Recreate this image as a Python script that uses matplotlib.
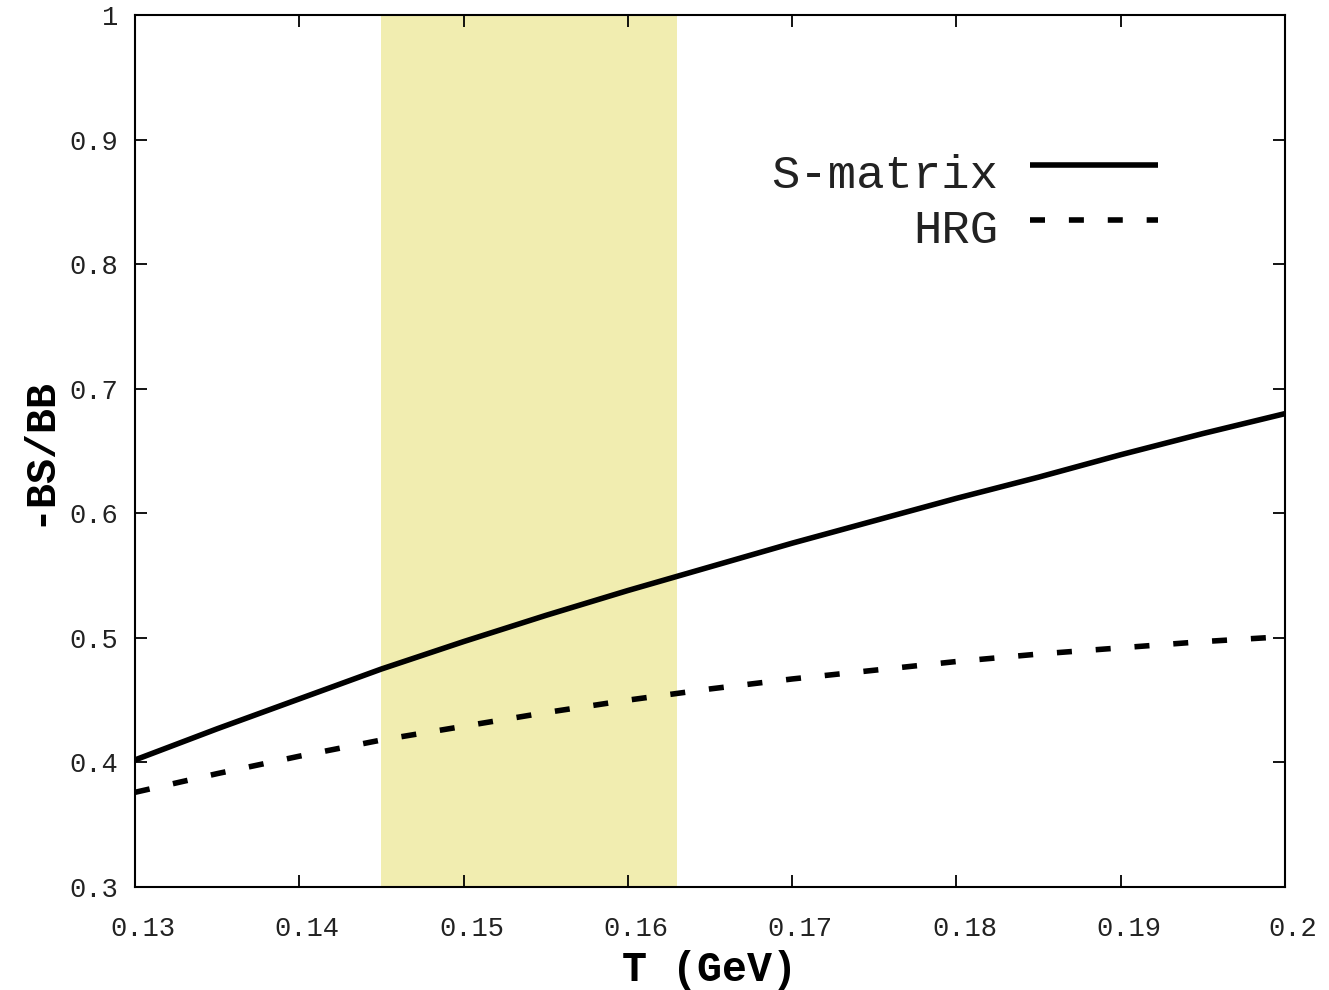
import matplotlib
matplotlib.use("Agg")
import matplotlib.pyplot as plt
import matplotlib.transforms as mtransforms
from matplotlib.lines import Line2D

# Temperature grid (GeV) and the -chi_BS/chi_BB ratio for both models
T = [0.130, 0.135, 0.140, 0.145, 0.150, 0.155, 0.160, 0.165,
     0.170, 0.175, 0.180, 0.185, 0.190, 0.195, 0.200]
s_matrix = [0.402, 0.427, 0.451, 0.475, 0.497, 0.518, 0.538, 0.557,
            0.576, 0.594, 0.612, 0.629, 0.647, 0.664, 0.680]
hrg = [0.376, 0.391, 0.405, 0.418, 0.429, 0.440, 0.450, 0.459,
       0.467, 0.474, 0.481, 0.487, 0.492, 0.497, 0.501]

# Pseudo-critical temperature band
band = (0.145, 0.163)

x_ticks = [0.13, 0.14, 0.15, 0.16, 0.17, 0.18, 0.19, 0.20]
x_labels = ["0.13", "0.14", "0.15", "0.16", "0.17", "0.18", "0.19", "0.2"]
y_ticks = [0.3, 0.4, 0.5, 0.6, 0.7, 0.8, 0.9, 1.0]
y_labels = ["0.3", "0.4", "0.5", "0.6", "0.7", "0.8", "0.9", "1"]

plt.rcParams['font.family'] = ['Liberation Mono', 'DejaVu Sans Mono']

fig = plt.figure(figsize=(13.29, 9.90), dpi=100)
ax = fig.add_axes([135 / 1329, 103 / 990, 1150 / 1329, 872 / 990])

ax.axvspan(band[0], band[1], color='#f1edb0', lw=0, zorder=0)

lw = 4.0
dash = (2.7, 4.3)
ax.plot(T, s_matrix, color='black', lw=lw, solid_capstyle='butt',
        solid_joinstyle='round', zorder=3)
ax.plot(T, hrg, color='black', lw=lw, dashes=dash,
        dash_capstyle='butt', zorder=3)

ax.set_xlim(0.13, 0.20)
ax.set_ylim(0.3, 1.0)
ax.set_xticks(x_ticks)
ax.set_xticklabels(x_labels)
ax.set_yticks(y_ticks)
ax.set_yticklabels(y_labels)

ax.tick_params(direction='in', length=8.5, width=1.3, top=True, right=True,
               labelsize=19.5, labelcolor='#222222')
ax.tick_params(axis='x', pad=21)
ax.tick_params(axis='y', pad=12)
for s in ax.spines.values():
    s.set_linewidth(1.5)

# x tick labels sit a little right of their ticks
shift = mtransforms.ScaledTranslation(8 / 100, 0, fig.dpi_scale_trans)
for lab in ax.get_xticklabels():
    lab.set_transform(lab.get_transform() + shift)

ax.set_xlabel("T (GeV)", fontsize=30, fontweight='bold', labelpad=6)
ax.set_ylabel("-BS/BB", fontsize=30, fontweight='bold', labelpad=8)

# Key: labels right-aligned, line samples to the right
ax.text(0.7504, 0.815, "S-matrix", transform=ax.transAxes, ha='right',
        va='center', fontsize=34, color='#222222')
ax.text(0.7504, 0.752, "HRG", transform=ax.transAxes, ha='right',
        va='center', fontsize=34, color='#222222')
ax.add_line(Line2D([0.778, 0.8896], [0.828, 0.828], transform=ax.transAxes,
                   color='black', lw=lw, solid_capstyle='butt'))
ax.add_line(Line2D([0.778, 0.8896], [0.765, 0.765], transform=ax.transAxes,
                   color='black', lw=lw, dashes=dash,
                   dash_capstyle='butt'))

fig.savefig("out.png", dpi=100)
